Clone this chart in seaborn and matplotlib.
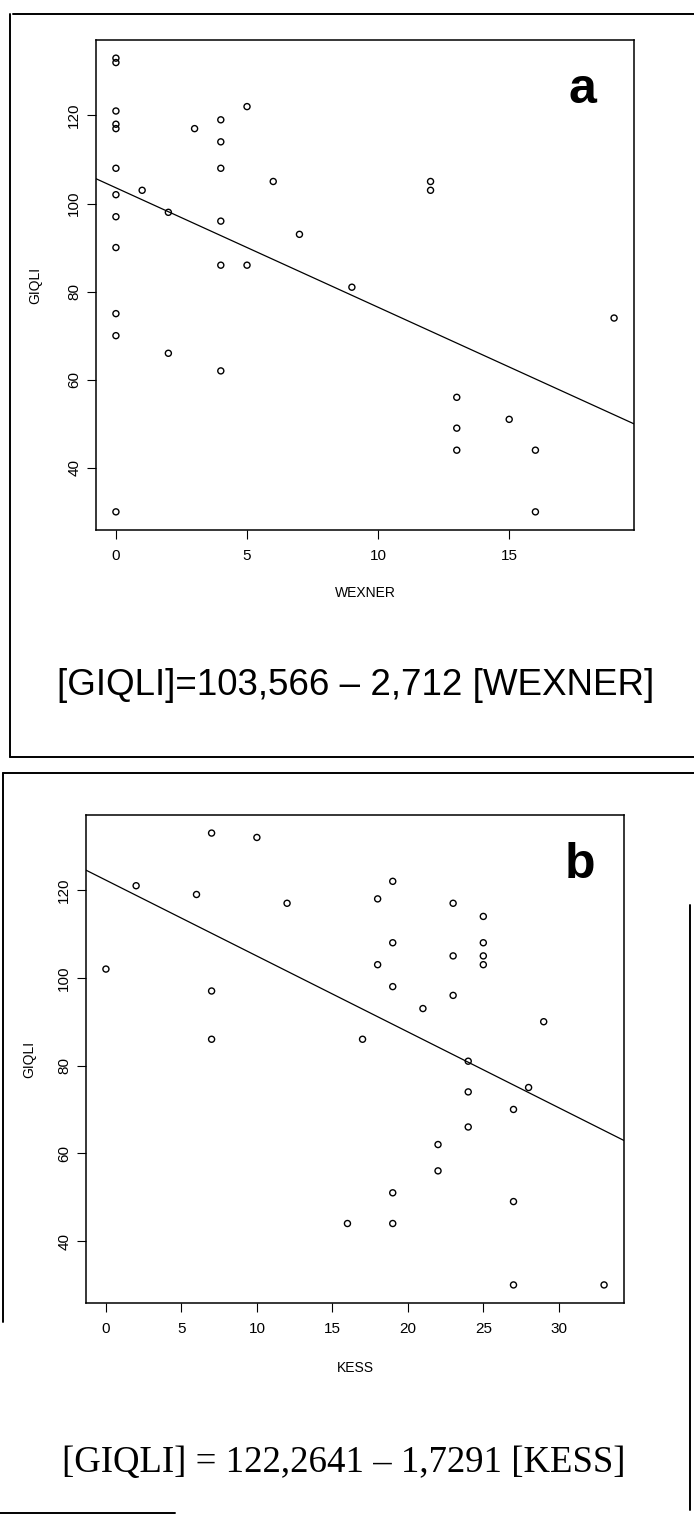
import numpy as np
import pandas as pd
import matplotlib
matplotlib.use("Agg")
import matplotlib.pyplot as plt
import seaborn as sns
from matplotlib.lines import Line2D

# ---------------- data ----------------
wexner_score = [0, 0, 0, 0, 0, 0, 0, 0, 0, 0, 0, 2, 1, 2, 3, 4, 4, 4, 4, 4,
                5, 5, 6, 7, 9, 12, 12, 19, 4, 13, 13, 13, 15, 16, 0, 16]
wexner_giqli = [133, 132, 121, 118, 117, 108, 102, 97, 90, 75, 70, 66, 103, 98, 117, 119, 114, 108, 96, 86,
                86, 122, 105, 93, 81, 105, 103, 74, 62, 56, 49, 44, 51, 44, 30, 30]
kess_score = [0, 2, 6, 7, 10, 7, 7, 12, 17, 18, 18, 19, 19, 19, 21, 23, 23, 23, 25, 25,
              25, 25, 29, 24, 24, 28, 27, 24, 22, 22, 19, 27, 16, 19, 27, 33]
kess_giqli = [102, 121, 119, 133, 132, 97, 86, 117, 86, 118, 103, 122, 108, 98, 93, 117, 105, 96, 114, 108,
              105, 103, 90, 81, 74, 75, 70, 66, 62, 56, 51, 49, 44, 44, 30, 30]

wexner_fit = (103.566, -2.712)      # intercept, slope
kess_fit = (122.2641, -1.7291)

y_ticks = [40, 60, 80, 100, 120]
wexner_ticks = [0, 5, 10, 15]
kess_ticks = [0, 5, 10, 15, 20, 25, 30]

eq_a = "[GIQLI]=103,566 \u2013 2,712 [WEXNER]"
eq_b = "[GIQLI] = 122,2641 \u2013 1,7291 [KESS]"

# ---------------- styling ----------------
sns.set_style("white")
plt.rcParams["font.family"] = ["Liberation Sans", "DejaVu Sans"]
plt.rcParams["text.color"] = "black"
plt.rcParams["axes.labelcolor"] = "black"
plt.rcParams["xtick.color"] = "black"
plt.rcParams["ytick.color"] = "black"

W, H = 694, 1515
fig = plt.figure(figsize=(W / 100, H / 100), dpi=100)


def fx(px):
    return px / W


def fy(py):
    return 1 - py / H


def r_lim(v):
    lo, hi = min(v), max(v)
    r = hi - lo
    return lo - 0.04 * r, hi + 0.04 * r


def panel(left, top, width, height, x, y, xname, xticks, fit, letter,
          letter_px, ylab_off, xlab_off):
    ax = fig.add_axes([fx(left), fy(top + height), fx(width), height / H])
    df = pd.DataFrame({xname: x, "GIQLI": y})
    sns.scatterplot(data=df, x=xname, y="GIQLI", ax=ax, color="black",
                    edgecolor="black", marker="o", s=19, linewidth=1.0,
                    legend=False)
    ax.collections[-1].set_facecolor("none")
    ax.axline((0, fit[0]), slope=fit[1], color="black", lw=0.9)
    ax.set_xlim(*r_lim(x))
    ax.set_ylim(*r_lim(y))
    ax.set_xticks(xticks)
    ax.set_yticks(y_ticks)
    ax.tick_params(axis="both", direction="out", length=6.3, width=0.8,
                   color="black", labelsize=11, labelcolor="black",
                   bottom=True, left=True, top=False, right=False)
    ax.tick_params(axis="x", pad=7.5)
    ax.tick_params(axis="y", pad=4.3)
    for lab in ax.get_yticklabels():
        lab.set_rotation(90)
        lab.set_va("center")
    for s in ax.spines.values():
        s.set_color("black")
        s.set_linewidth(1.1)
    ax.set_xlabel(xname, fontsize=10, va="center")
    ax.set_ylabel("GIQLI", fontsize=10, va="center")
    ax.xaxis.set_label_coords(0.5, -xlab_off / height)
    ax.yaxis.set_label_coords(-ylab_off / width, 0.5)
    fig.text(fx(letter_px[0]), fy(letter_px[1]), letter, ha="center",
             va="baseline", fontsize=36, fontweight="bold")
    return ax


panel(96, 40, 538, 490, wexner_score, wexner_giqli, "WEXNER", wexner_ticks,
      wexner_fit, "a", (582, 103), 61, 63)
panel(86, 815, 538, 488, kess_score, kess_giqli, "KESS", kess_ticks,
      kess_fit, "b", (580, 878), 57, 64.5)

fig.text(fx(356), fy(695), eq_a, ha="center", va="baseline", fontsize=26.5,
         family=["Liberation Sans", "DejaVu Sans"])
fig.text(fx(344), fy(1472), eq_b, ha="center", va="baseline", fontsize=26.5,
         family=["Liberation Serif", "DejaVu Serif"])

# frame lines around the panels
frames = [
    ((13, 694), (14, 14)),
    ((10, 10), (14, 757)),
    ((10, 694), (757, 757)),
    ((3, 694), (773, 773)),
    ((3, 3), (773, 1322)),
    ((690, 690), (905, 1510)),
    ((0, 175), (1513, 1513)),
]
for xs, ys in frames:
    fig.add_artist(Line2D([fx(v) for v in xs], [fy(v) for v in ys],
                          transform=fig.transFigure, color="black", lw=1.4))

fig.savefig("out.png", dpi=100)
